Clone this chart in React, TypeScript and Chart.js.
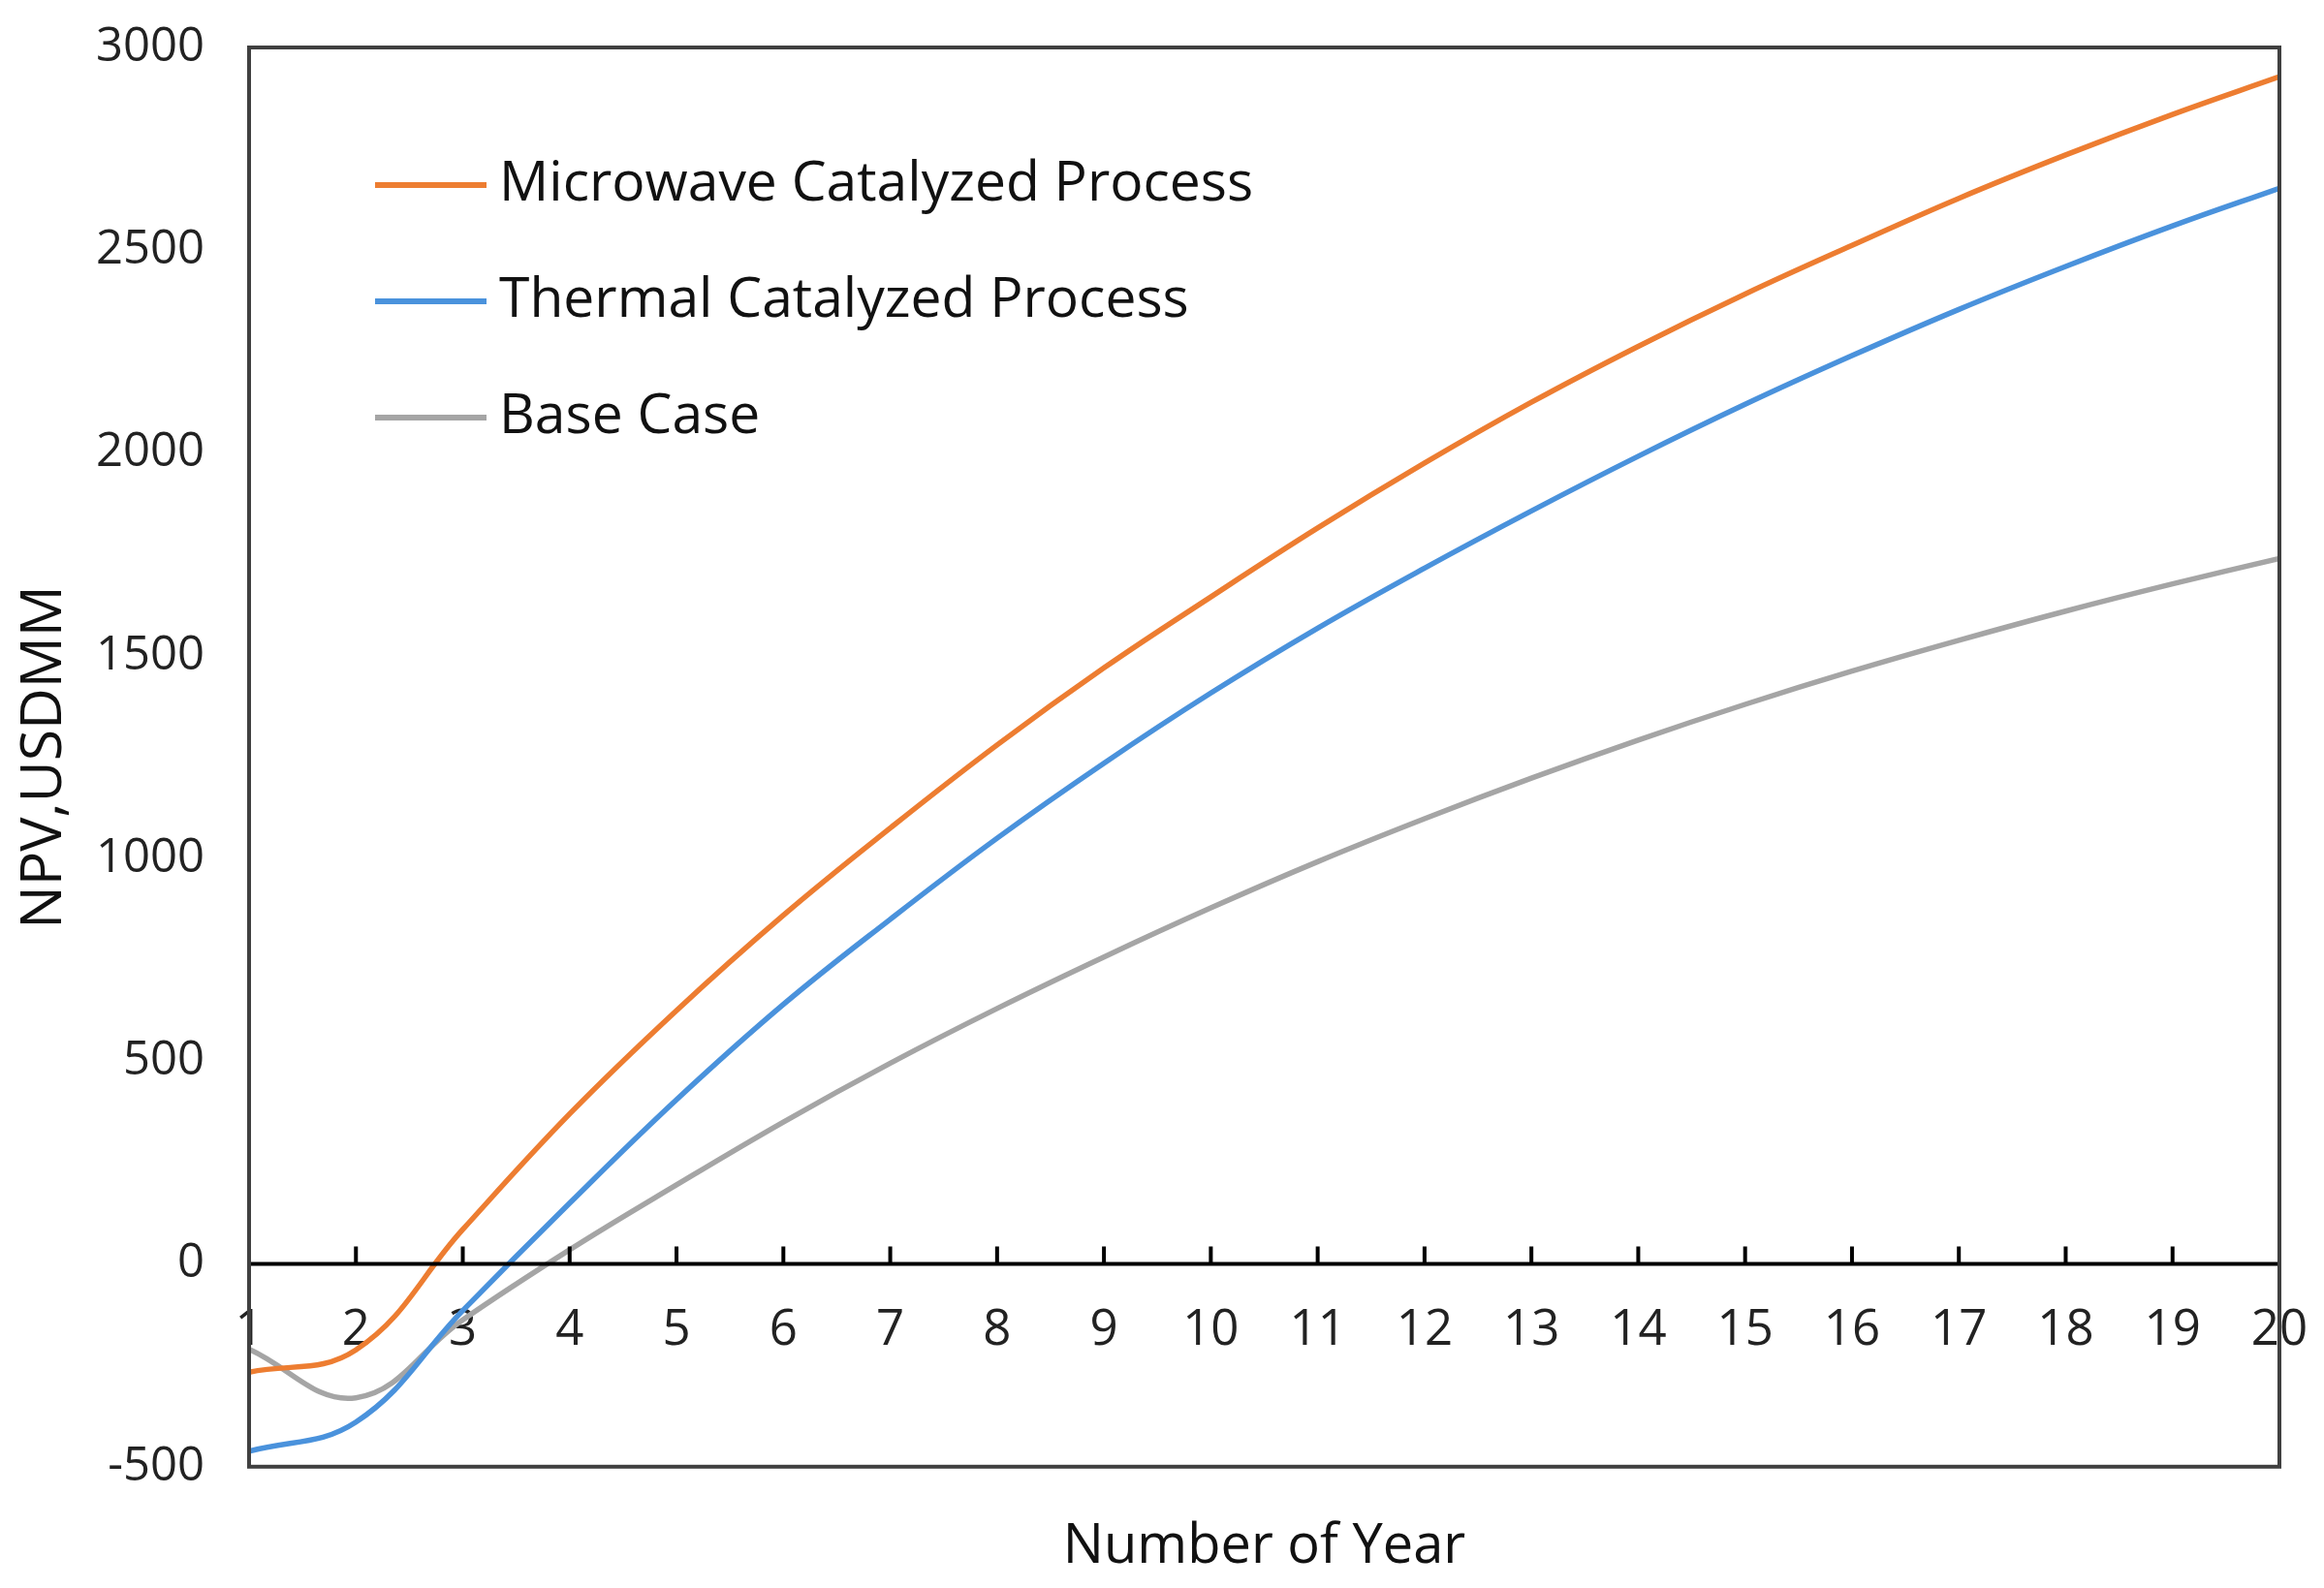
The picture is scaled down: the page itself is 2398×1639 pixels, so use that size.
import { useEffect, useRef } from "react"
import { Chart, registerables } from "chart.js"

Chart.register(...registerables)

// Years on the x axis and NPV (USD MM)
const years = [1, 2, 3, 4, 5, 6, 7, 8, 9, 10, 11, 12, 13, 14, 15, 16, 17, 18, 19, 20]
const microwave = [-267, -212, 85, 370, 625, 860, 1075, 1280, 1470, 1645, 1815, 1975, 2125, 2263, 2392, 2512, 2628, 2735, 2835, 2928]
const thermal = [-462, -390, -115, 150, 405, 640, 850, 1050, 1235, 1408, 1568, 1716, 1857, 1992, 2120, 2240, 2354, 2460, 2560, 2653]
const baseCase = [-210, -330, -138, 35, 195, 350, 495, 630, 757, 878, 992, 1098, 1198, 1292, 1380, 1462, 1538, 1610, 1677, 1740]
const seriesNames = ["Microwave Catalyzed Process", "Thermal Catalyzed Process", "Base Case"]
const seriesColors = ["#ed7d31", "#4a92dc", "#a5a5a5"]
const yMin = -500
const yMax = 3000
const yStep = 500

const FONT = "'Open Sans', 'DejaVu Sans', sans-serif"

// frame round the plot area
const framePlugin = {
  id: "frame",
  afterDraw(chart: Chart) {
    const { ctx, chartArea } = chart
    ctx.save()
    ctx.strokeStyle = "#404040"
    ctx.lineWidth = 4
    ctx.strokeRect(chartArea.left, chartArea.top, chartArea.right - chartArea.left, chartArea.bottom - chartArea.top)
    ctx.restore()
  },
}

// zero line with tick marks pointing up
const zeroLinePlugin = {
  id: "zeroLine",
  afterDatasetsDraw(chart: Chart) {
    const { ctx, chartArea, scales } = chart
    const y0 = scales.y.getPixelForValue(0)
    ctx.save()
    ctx.strokeStyle = "#000"
    ctx.lineWidth = 4
    ctx.beginPath()
    ctx.moveTo(chartArea.left, y0)
    ctx.lineTo(chartArea.right, y0)
    scales.x.ticks.forEach((t) => {
      const px = scales.x.getPixelForValue(t.value)
      ctx.moveTo(px, y0)
      ctx.lineTo(px, y0 - 18)
    })
    ctx.stroke()
    ctx.restore()
  },
}

// legend drawn inside the plot area, one entry per row
const innerLegendPlugin = {
  id: "innerLegend",
  afterDraw(chart: Chart) {
    const { ctx, chartArea } = chart
    ctx.save()
    ctx.font = `57px ${FONT}`
    ctx.textBaseline = "middle"
    ctx.fillStyle = "#111"
    chart.data.datasets.forEach((ds, i) => {
      const y = chartArea.top + 142 + i * 120
      ctx.strokeStyle = ds.borderColor as string
      ctx.lineWidth = 6
      ctx.beginPath()
      ctx.moveTo(chartArea.left + 130, y)
      ctx.lineTo(chartArea.left + 245, y)
      ctx.stroke()
      ctx.fillText(ds.label as string, chartArea.left + 258, y)
    })
    ctx.restore()
  },
}

export function NpvChart() {
  const chartRef = useRef<HTMLCanvasElement>(null)
  const chartInstance = useRef<Chart | null>(null)

  useEffect(() => {
    if (!chartRef.current) return
    document.body.style.margin = "0"

    if (chartInstance.current) {
      chartInstance.current.destroy()
    }

    const series = [microwave, thermal, baseCase]

    chartInstance.current = new Chart(chartRef.current, {
      type: "line",
      data: {
        datasets: series.map((values, i) => ({
          label: seriesNames[i],
          data: years.map((x, j) => ({ x, y: values[j] })),
          borderColor: seriesColors[i],
          backgroundColor: seriesColors[i],
          borderWidth: 5.5,
          pointRadius: 0,
          tension: 0.4,
          fill: false,
        })),
      },
      options: {
        animation: false,
        responsive: true,
        maintainAspectRatio: false,
        layout: {
          padding: { top: 49, right: 46, bottom: 8, left: 11 },
        },
        plugins: {
          legend: { display: false },
          tooltip: { enabled: false },
        },
        scales: {
          x: {
            type: "linear",
            min: years[0],
            max: years[years.length - 1],
            position: { y: 0 },
            grid: { display: false, drawTicks: false },
            border: { display: false },
            ticks: {
              stepSize: 1,
              padding: 38,
              color: "#222",
              font: { family: FONT, size: 51 },
              callback: (v) => String(v),
            },
            // labels may run past the frame, as in the original
            afterFit: (s) => {
              s.paddingLeft = 0
              s.paddingRight = 0
            },
          },
          x2: {
            type: "linear",
            position: "bottom",
            min: years[0],
            max: years[years.length - 1],
            grid: { display: false, drawTicks: false },
            border: { display: false },
            ticks: { display: false },
            title: {
              display: true,
              text: "Number of Year",
              color: "#111",
              font: { family: FONT, size: 56 },
              padding: { top: 50, bottom: 0 },
            },
          },
          y: {
            min: yMin,
            max: yMax,
            grid: { display: false, drawTicks: false },
            border: { display: false },
            ticks: {
              stepSize: yStep,
              padding: 46,
              color: "#222",
              font: { family: FONT, size: 49 },
              callback: (v) => String(v),
            },
            title: {
              display: true,
              text: "NPV,USDMM",
              color: "#111",
              font: { family: FONT, size: 59 },
              padding: { top: 0, bottom: 12 },
            },
            afterFit: (s) => {
              s.width = 246
              s.paddingTop = 0
              s.paddingBottom = 0
            },
          },
        },
      },
      plugins: [framePlugin, zeroLinePlugin, innerLegendPlugin],
    })

    return () => {
      if (chartInstance.current) {
        chartInstance.current.destroy()
        chartInstance.current = null
      }
    }
  }, [])

  return (
    <div style={{ width: 2398, height: 1639, position: "relative", overflow: "hidden", background: "#fff" }}>
      <canvas ref={chartRef} />
    </div>
  )
}

export default function App() {
  return <NpvChart />
}
